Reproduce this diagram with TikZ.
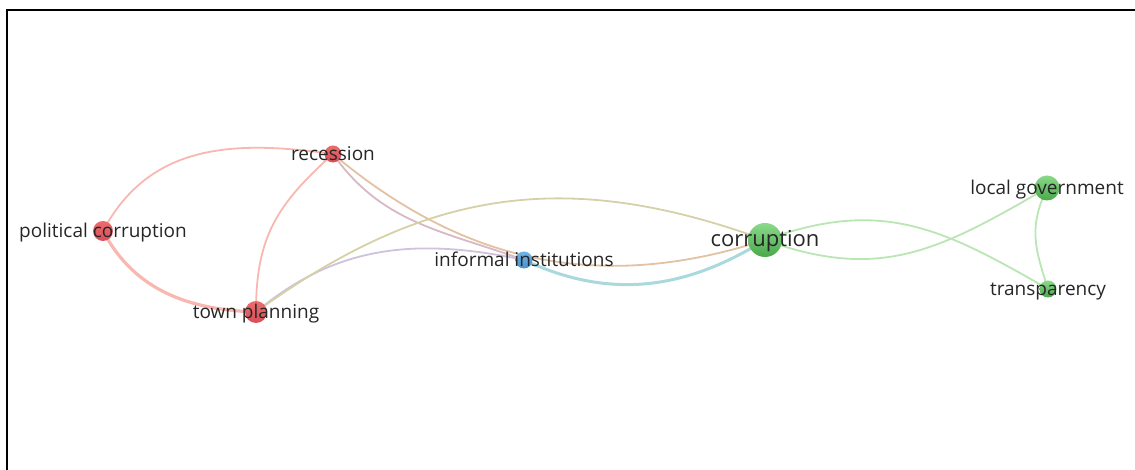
\documentclass[tikz,border=0pt]{standalone}
\usepackage{fontspec}
\setmainfont{Open Sans}
\usetikzlibrary{calc}
\definecolor{nodered}{HTML}{EC6C6C}
\definecolor{nodereddark}{HTML}{D84E58}
\definecolor{nodegreen}{HTML}{8AD98A}
\definecolor{nodegreendark}{HTML}{4AA84A}
\definecolor{nodeblue}{HTML}{70B4E6}
\definecolor{nodebluedark}{HTML}{4A90CC}
\definecolor{linkred}{HTML}{F8B8B0}
\definecolor{linkgreen}{HTML}{B9E6B3}
\definecolor{linkmauve}{HTML}{D9B8C6}
\definecolor{linkpurple}{HTML}{CFC2DC}
\definecolor{linkorange}{HTML}{E2C2A2}
\definecolor{linkolive}{HTML}{D6D0A8}
\definecolor{linkteal}{HTML}{A9D9DC}
\definecolor{labeltext}{HTML}{262626}

\begin{document}
\begin{tikzpicture}[x=1pt,y=1pt,
  link/.style={line width=1.8pt, line cap=round},
  kwred/.style={circle, inner sep=0pt, minimum size=#1, top color=nodered, bottom color=nodereddark},
  kwgreen/.style={circle, inner sep=0pt, minimum size=#1, top color=nodegreen, bottom color=nodegreendark},
  kwblue/.style={circle, inner sep=0pt, minimum size=#1, top color=nodeblue, bottom color=nodebluedark},
  every label/.style={text=labeltext, font=\fontsize{19}{23}\selectfont, inner sep=0pt,
    text height=0.75em, text depth=0.23em, yshift=-3.5pt}
]
\useasboundingbox (0,0) rectangle (1135,470);

% Frame
\draw[line width=2pt] (7,0) -- (7,460) -- (1135,460);

% Keyword positions
\coordinate (polcor) at (103,239);
\coordinate (rec) at (333,316);
\coordinate (town) at (256,158);
\coordinate (inf) at (524,210);
\coordinate (cor) at (765,230);
\coordinate (locgov) at (1047,282);
\coordinate (transp) at (1048,181);

% Red cluster links
\draw[link, linkred] (polcor) to[out=62,in=172,looseness=1.05] (rec);
\draw[link, linkred, line width=3.2pt] (polcor) to[out=-62,in=178] (town);
\draw[link, linkred] (rec) to[out=222,in=90,looseness=1.1] (town);

% Links across clusters
\draw[link, linkmauve] (rec) to[out=-55,in=160] (inf);
\draw[link, linkpurple] (town) to[out=40,in=168] (inf);
\draw[link, linkorange] (rec) to[out=-40,in=198] (cor);
\draw[link, linkolive] (town) to[out=36,in=160,looseness=1.05] (cor);
\draw[link, linkteal, line width=3pt] (inf) to[out=-25,in=212] (cor);

% Green cluster links
\draw[link, linkgreen] (cor) to[out=-20,in=210,looseness=1.1] (locgov);
\draw[link, linkgreen] (cor) to[out=20,in=150,looseness=1.1] (transp);
\draw[link, linkgreen] (locgov) to[out=245,in=108,looseness=1.1] (transp);

% Keywords
\node[kwred=20pt, label=center:political corruption] (polcorN) at (polcor) {};
\node[kwred=17pt, label=center:recession] (recN) at (rec) {};
\node[kwred=22pt, label=center:town planning] (townN) at (town) {};
\node[kwblue=17pt, label=center:informal institutions] (infN) at (inf) {};
\node[kwgreen=34pt, label={[font=\fontsize{22}{26}\selectfont]center:corruption}] (corN) at (cor) {};
\node[kwgreen=25pt, label=center:local government] (locgovN) at (locgov) {};
\node[kwgreen=17pt, label=center:transparency] (transpN) at (transp) {};
\end{tikzpicture}
\end{document}
